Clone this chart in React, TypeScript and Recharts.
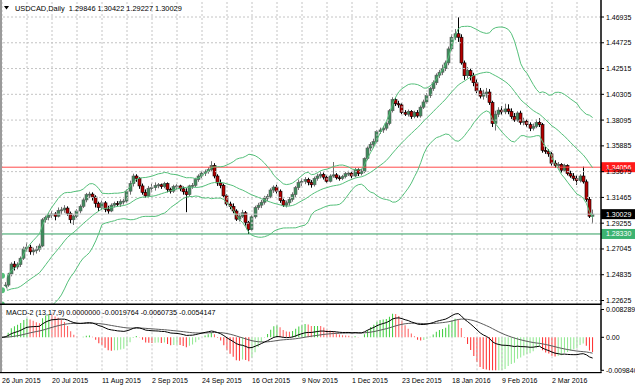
import React from 'react';
import { ComposedChart, Bar, Line, XAxis, YAxis, ReferenceLine, Cell } from 'recharts';

// USDCAD daily, 26 Jun 2015 .. 21 Mar 2016 (bar index 0..189)
const opens = [
  1.2335, 1.2355, 1.2395, 1.2490, 1.2575, 1.2550, 1.2570, 1.2625, 1.2705, 1.2720,
  1.2680, 1.2690, 1.2700, 1.2730, 1.2955, 1.2975, 1.2995, 1.3005, 1.2985, 1.3035,
  1.3040, 1.3055, 1.3010, 1.2955, 1.2985, 1.3030, 1.3070, 1.3125, 1.3170, 1.3175,
  1.3150, 1.3095, 1.3060, 1.3100, 1.3045, 1.3030, 1.3080, 1.3095, 1.3090, 1.3110,
  1.3115, 1.3200, 1.3265, 1.3330, 1.3310, 1.3245, 1.3190, 1.3160, 1.3225, 1.3230,
  1.3250, 1.3255, 1.3240, 1.3265, 1.3215, 1.3200, 1.3240, 1.3245, 1.3220, 1.3195,
  1.3170, 1.3245, 1.3250, 1.3300, 1.3330, 1.3355, 1.3370, 1.3385, 1.3420, 1.3330,
  1.3270, 1.3250, 1.3160, 1.3090, 1.3070, 1.3030, 1.2960, 1.2985, 1.3015, 1.2930,
  1.2870, 1.2980, 1.3060, 1.3080, 1.3105, 1.3140, 1.3155, 1.3210, 1.3235, 1.3200,
  1.3120, 1.3080, 1.3100, 1.3130, 1.3170, 1.3230, 1.3275, 1.3285, 1.3300, 1.3275,
  1.3255, 1.3310, 1.3330, 1.3345, 1.3320, 1.3285, 1.3330, 1.3340, 1.3315, 1.3310,
  1.3325, 1.3350, 1.3355, 1.3330, 1.3385, 1.3350, 1.3370, 1.3480, 1.3570, 1.3600,
  1.3625, 1.3710, 1.3725, 1.3740, 1.3780, 1.3890, 1.3985, 1.3950, 1.3940, 1.3875,
  1.3860, 1.3885, 1.3840, 1.3875, 1.3845, 1.3920, 1.3965, 1.4020, 1.4080, 1.4130,
  1.4195, 1.4220, 1.4250, 1.4300, 1.4420, 1.4520, 1.4550, 1.4520, 1.4300, 1.4190,
  1.4235, 1.4190, 1.4130, 1.4060, 1.4015, 1.4035, 1.4050, 1.3960, 1.3780, 1.3860,
  1.3895, 1.3880, 1.3905, 1.3885, 1.3840, 1.3810, 1.3870, 1.3790, 1.3800, 1.3770,
  1.3740, 1.3755, 1.3790, 1.3770, 1.3550, 1.3540, 1.3520, 1.3440, 1.3420, 1.3430,
  1.3380, 1.3420, 1.3350, 1.3330, 1.3310, 1.3290, 1.3330, 1.3280, 1.3130, 1.29846,
];
const highs = [
  1.2380, 1.2420, 1.2500, 1.2590, 1.2600, 1.2590, 1.2640, 1.2725, 1.2760, 1.2740,
  1.2715, 1.2730, 1.2750, 1.2970, 1.2990, 1.3015, 1.3030, 1.3020, 1.3060, 1.3065,
  1.3080, 1.3070, 1.3025, 1.3000, 1.3045, 1.3085, 1.3140, 1.3185, 1.3195, 1.3190,
  1.3165, 1.3110, 1.3120, 1.3115, 1.3075, 1.3095, 1.3110, 1.3115, 1.3130, 1.3135,
  1.3215, 1.3290, 1.3350, 1.3345, 1.3320, 1.3265, 1.3215, 1.3245, 1.3265, 1.3275,
  1.3270, 1.3265, 1.3280, 1.3275, 1.3230, 1.3255, 1.3260, 1.3255, 1.3240, 1.3225,
  1.3255, 1.3270, 1.3315, 1.3345, 1.3370, 1.3385, 1.3405, 1.3457, 1.3440, 1.3345,
  1.3300, 1.3265, 1.3175, 1.3110, 1.3095, 1.3045, 1.3010, 1.3040, 1.3030, 1.2945,
  1.2995, 1.3075, 1.3100, 1.3125, 1.3160, 1.3175, 1.3225, 1.3250, 1.3255, 1.3215,
  1.3135, 1.3120, 1.3150, 1.3190, 1.3245, 1.3300, 1.3310, 1.3320, 1.3315, 1.3295,
  1.3325, 1.3350, 1.3370, 1.3360, 1.3335, 1.3345, 1.3450, 1.3355, 1.3335, 1.3340,
  1.3365, 1.3375, 1.3365, 1.3400, 1.3395, 1.3390, 1.3490, 1.3585, 1.3620, 1.3650,
  1.3725, 1.3745, 1.3760, 1.3795, 1.3905, 1.4005, 1.4000, 1.3975, 1.3955, 1.3895,
  1.3900, 1.3895, 1.3890, 1.3895, 1.3935, 1.3985, 1.4040, 1.4095, 1.4150, 1.4210,
  1.4240, 1.4285, 1.4320, 1.4440, 1.4545, 1.4590, 1.4690, 1.4545, 1.4320, 1.4265,
  1.4250, 1.4215, 1.4160, 1.4085, 1.4070, 1.4085, 1.4075, 1.3975, 1.3890, 1.3920,
  1.3930, 1.3950, 1.3945, 1.3910, 1.3870, 1.3885, 1.3890, 1.3830, 1.3815, 1.3790,
  1.3780, 1.3815, 1.3825, 1.3785, 1.3580, 1.3560, 1.3535, 1.3465, 1.3450, 1.3440,
  1.3435, 1.3430, 1.3375, 1.3355, 1.3335, 1.3345, 1.3410, 1.3300, 1.3150, 1.30422,
];
const lows = [
  1.2310, 1.2340, 1.2380, 1.2470, 1.2520, 1.2530, 1.2550, 1.2610, 1.2680, 1.2655,
  1.2650, 1.2665, 1.2680, 1.2720, 1.2930, 1.2950, 1.2970, 1.2950, 1.2975, 1.3000,
  1.3015, 1.2990, 1.2925, 1.2910, 1.2970, 1.3010, 1.3055, 1.3105, 1.3140, 1.3120,
  1.3060, 1.3030, 1.3040, 1.3020, 1.3005, 1.3020, 1.3060, 1.3070, 1.3065, 1.3085,
  1.3100, 1.3170, 1.3240, 1.3280, 1.3220, 1.3170, 1.3145, 1.3140, 1.3190, 1.3205,
  1.3225, 1.3220, 1.3225, 1.3190, 1.3180, 1.3185, 1.3215, 1.3200, 1.3170, 1.3020,
  1.3155, 1.3220, 1.3235, 1.3280, 1.3310, 1.3330, 1.3350, 1.3370, 1.3310, 1.3245,
  1.3225, 1.3140, 1.3075, 1.3045, 1.3010, 1.2945, 1.2940, 1.2970, 1.2905, 1.2833,
  1.2860, 1.2965, 1.3040, 1.3055, 1.3085, 1.3115, 1.3140, 1.3185, 1.3180, 1.3100,
  1.3065, 1.3060, 1.3075, 1.3110, 1.3150, 1.3210, 1.3245, 1.3260, 1.3250, 1.3230,
  1.3240, 1.3290, 1.3310, 1.3300, 1.3270, 1.3275, 1.3315, 1.3300, 1.3290, 1.3295,
  1.3310, 1.3330, 1.3310, 1.3320, 1.3330, 1.3335, 1.3355, 1.3465, 1.3545, 1.3580,
  1.3610, 1.3690, 1.3700, 1.3720, 1.3765, 1.3875, 1.3930, 1.3915, 1.3860, 1.3845,
  1.3840, 1.3820, 1.3825, 1.3830, 1.3830, 1.3905, 1.3950, 1.4000, 1.4060, 1.4110,
  1.4170, 1.4195, 1.4230, 1.4280, 1.4400, 1.4495, 1.4480, 1.4285, 1.4155, 1.4170,
  1.4150, 1.4100, 1.4040, 1.3995, 1.3985, 1.4000, 1.3940, 1.3750, 1.3720, 1.3835,
  1.3855, 1.3860, 1.3860, 1.3820, 1.3795, 1.3795, 1.3770, 1.3765, 1.3750, 1.3715,
  1.3720, 1.3740, 1.3750, 1.3530, 1.3520, 1.3495, 1.3420, 1.3400, 1.3395, 1.3360,
  1.3365, 1.3335, 1.3315, 1.3290, 1.3255, 1.3275, 1.3265, 1.3110, 1.2970, 1.29227,
];
const closes = [
  1.2355, 1.2395, 1.2490, 1.2575, 1.2550, 1.2570, 1.2625, 1.2705, 1.2720, 1.2680,
  1.2690, 1.2700, 1.2730, 1.2955, 1.2975, 1.2995, 1.3005, 1.2985, 1.3035, 1.3040,
  1.3055, 1.3010, 1.2955, 1.2985, 1.3030, 1.3070, 1.3125, 1.3170, 1.3175, 1.3150,
  1.3095, 1.3060, 1.3100, 1.3045, 1.3030, 1.3080, 1.3095, 1.3090, 1.3110, 1.3115,
  1.3200, 1.3265, 1.3330, 1.3310, 1.3245, 1.3190, 1.3160, 1.3225, 1.3230, 1.3250,
  1.3255, 1.3240, 1.3265, 1.3215, 1.3200, 1.3240, 1.3245, 1.3220, 1.3195, 1.3170,
  1.3245, 1.3250, 1.3300, 1.3330, 1.3355, 1.3370, 1.3385, 1.3420, 1.3330, 1.3270,
  1.3250, 1.3160, 1.3090, 1.3070, 1.3030, 1.2960, 1.2985, 1.3015, 1.2930, 1.2870,
  1.2980, 1.3060, 1.3080, 1.3105, 1.3140, 1.3155, 1.3210, 1.3235, 1.3200, 1.3120,
  1.3080, 1.3100, 1.3130, 1.3170, 1.3230, 1.3275, 1.3285, 1.3300, 1.3275, 1.3255,
  1.3310, 1.3330, 1.3345, 1.3320, 1.3285, 1.3330, 1.3340, 1.3315, 1.3310, 1.3325,
  1.3350, 1.3355, 1.3330, 1.3385, 1.3350, 1.3370, 1.3480, 1.3570, 1.3600, 1.3625,
  1.3710, 1.3725, 1.3740, 1.3780, 1.3890, 1.3985, 1.3950, 1.3940, 1.3875, 1.3860,
  1.3885, 1.3840, 1.3875, 1.3845, 1.3920, 1.3965, 1.4020, 1.4080, 1.4130, 1.4195,
  1.4220, 1.4250, 1.4300, 1.4420, 1.4520, 1.4550, 1.4520, 1.4300, 1.4190, 1.4235,
  1.4190, 1.4130, 1.4060, 1.4015, 1.4035, 1.4050, 1.3960, 1.3780, 1.3860, 1.3895,
  1.3880, 1.3905, 1.3885, 1.3840, 1.3810, 1.3870, 1.3790, 1.3800, 1.3770, 1.3740,
  1.3755, 1.3790, 1.3770, 1.3550, 1.3540, 1.3520, 1.3440, 1.3420, 1.3430, 1.3380,
  1.3420, 1.3350, 1.3330, 1.3310, 1.3290, 1.3330, 1.3280, 1.3130, 1.2985, 1.30029,
];
// June 2015 closes before the first visible bar, only used to seed the Bollinger bands
const warmupCloses = [
  1.2480, 1.2390, 1.2370, 1.2470, 1.2460, 1.2360, 1.2320, 1.2290, 1.2305, 1.2320,
  1.2340, 1.2330, 1.2290, 1.2255, 1.2280, 1.2290, 1.2360, 1.2380, 1.2375,
];

const priceTicks = [1.22625, 1.24835, 1.27045, 1.29255, 1.31465, 1.33675, 1.35885, 1.38095, 1.40305, 1.42515, 1.44725, 1.46935];
const macdTicks = [-0.00984, 0, 0.0082891];
const macdTickLabels = ['-0.009840', '0.00', '0.0082891'];
const labelBars = [0, 16, 32, 48, 64, 80, 96, 112, 128, 144, 160, 176];
const dateLabels = ['26 Jun 2015', '20 Jul 2015', '11 Aug 2015', '2 Sep 2015', '24 Sep 2015', '16 Oct 2015', '9 Nov 2015', '1 Dec 2015', '23 Dec 2015', '18 Jan 2016', '9 Feb 2016', '2 Mar 2016'];
const gridBars = [0, 8, 16, 24, 32, 40, 48, 56, 64, 72, 80, 88, 96, 104, 112, 120, 128, 136, 144, 152, 160, 168, 176, 184];
const levelPrices = [1.34056, 1.30029, 1.28330];
const levelLine = ['#ff4a4a', '#c8c8c8', '#2e9e5e'];
const levelTag = ['#ff1a1a', '#000000', '#3cb371'];

const FONT = '"Liberation Sans", Arial, sans-serif';
const X_DOMAIN: [number, number] = [-0.64, 191.68];
const BB_PERIOD = 20;

const seq = [...warmupCloses, ...closes];
const off = warmupCloses.length;

const rows = closes.map((c, i) => {
  const win = seq.slice(off + i - BB_PERIOD + 1, off + i + 1);
  const m = win.reduce((a, b) => a + b, 0) / win.length;
  const sd = Math.sqrt(win.reduce((a, b) => a + (b - m) * (b - m), 0) / win.length);
  return { i, open: opens[i], high: highs[i], low: lows[i], close: c, bbUp: m + 2 * sd, bbMid: m, bbLo: m - 2 * sd };
});

// MACD-2 (13,17,9): EMAs seeded on the first bar, smoothed signal, histogram = 3 * (macd - signal)
let e13 = closes[0];
let e17 = closes[0];
let sig = 0;
let prevH = 0;
const macdRows = closes.map((c, i) => {
  if (i > 0) {
    e13 += (c - e13) * 2 / 14;
    e17 += (c - e17) * 2 / 18;
  }
  const m = e13 - e17;
  if (i > 0) sig += (m - sig) / 9;
  const h = 3 * (m - sig);
  const rising = h >= prevH;
  const color = rising ? (h >= 0 ? '#3ccc3c' : '#8ee88e') : (h >= 0 ? '#ff5a5a' : '#ff2a2a');
  prevH = h;
  return { i, macd: m, signal: sig, hist: h, color };
});

const Candle = (props: any) => {
  const { x, y, width, height, payload } = props;
  if (x == null || y == null) return null;
  const { open, close, high, low } = payload;
  const span = high - low || 1e-9;
  const yOf = (v: number) => y + ((high - v) / span) * height;
  const cx = Math.floor(x + width / 2) + 0.5;
  const up = close >= open;
  const top = yOf(Math.max(open, close));
  const bot = yOf(Math.min(open, close));
  return (
    <g>
      <line x1={cx} x2={cx} y1={y} y2={y + height} stroke={up ? '#707070' : '#000'} strokeWidth={1} />
      <rect x={cx - 1.5} y={top} width={3} height={Math.max(bot - top, 1)} fill={up ? '#3f8a5c' : '#b40000'} stroke={up ? '#5a5a5a' : '#000'} strokeWidth={0.6} />
    </g>
  );
};

const PriceTick = (props: any) => {
  const { x, y, payload } = props;
  return (
    <text x={x} y={y + 2.5} fontSize={7} fontFamily={FONT} fill="#000">
      {Number(payload.value).toFixed(5)}
    </text>
  );
};

const MacdTick = (props: any) => {
  const { x, y, payload } = props;
  const k = macdTicks.indexOf(payload.value);
  return (
    <text x={x} y={y + 2.5} fontSize={7} fontFamily={FONT} fill="#000">
      {k >= 0 ? macdTickLabels[k] : ''}
    </text>
  );
};

const DateTick = (props: any) => {
  const { x, y, payload } = props;
  const k = labelBars.indexOf(payload.value);
  return (
    <text x={x} y={y + 12.9} fontSize={7} fontFamily={FONT} fill="#000">
      {k >= 0 ? dateLabels[k] : ''}
    </text>
  );
};

const PriceTag = (props: any) => {
  const { viewBox, text, bg } = props;
  if (!viewBox) return null;
  const x0 = viewBox.x + viewBox.width;
  return (
    <g>
      <rect x={x0} y={viewBox.y - 5} width={34} height={10} fill={bg} />
      <text x={x0 + 5} y={viewBox.y + 2.5} fontSize={7} fontFamily={FONT} fill="#fff">{text}</text>
    </g>
  );
};

export default function App() {
  return (
    <div style={{ position: 'absolute', left: 0, top: 0, width: 635, height: 391, background: '#fff', overflow: 'hidden' }}>
      <div style={{ position: 'absolute', left: 0, top: 0 }}>
        <ComposedChart width={635} height={304} data={rows} margin={{ top: 0, right: 0, bottom: 0, left: 0 }}>
          <XAxis dataKey="i" type="number" domain={X_DOMAIN} allowDataOverflow hide />
          <YAxis
            orientation="right"
            width={34}
            domain={[1.22325, 1.48393]}
            allowDataOverflow
            ticks={priceTicks}
            interval={0}
            tickSize={3}
            tickMargin={2}
            axisLine={{ stroke: '#000' }}
            tickLine={{ stroke: '#000' }}
            tick={<PriceTick />}
          />
          {priceTicks.map((p) => (
            <ReferenceLine key={'h' + p} y={p} stroke="#c4c4c4" strokeDasharray="2 2" />
          ))}
          {gridBars.map((b) => (
            <ReferenceLine key={'v' + b} x={b} stroke="#c4c4c4" strokeDasharray="2 2" />
          ))}
          {levelPrices.map((p, k) => (
            <ReferenceLine key={'l' + p} y={p} stroke={levelLine[k]} strokeWidth={1} />
          ))}
          <Line dataKey="bbUp" stroke="#55c07a" strokeWidth={1} dot={false} isAnimationActive={false} />
          <Line dataKey="bbMid" stroke="#55c07a" strokeWidth={1} dot={false} isAnimationActive={false} />
          <Line dataKey="bbLo" stroke="#55c07a" strokeWidth={1} dot={false} isAnimationActive={false} />
          <Bar dataKey={(d: any) => [d.low, d.high]} barSize={3} shape={<Candle />} isAnimationActive={false} />
          {levelPrices.map((p, k) => (
            <ReferenceLine
              key={'t' + p}
              y={p}
              stroke="none"
              label={<PriceTag text={p.toFixed(5)} bg={levelTag[k]} />}
            />
          ))}
        </ComposedChart>
      </div>
      <div style={{ position: 'absolute', left: 0, top: 304 }}>
        <ComposedChart width={635} height={87} data={macdRows} margin={{ top: 5.5, right: 0, bottom: 0, left: 0 }}>
          <XAxis
            dataKey="i"
            type="number"
            domain={X_DOMAIN}
            allowDataOverflow
            ticks={labelBars}
            interval={0}
            height={20.7}
            tickSize={0}
            tickMargin={0}
            axisLine={false}
            tickLine={false}
            tick={<DateTick />}
          />
          <YAxis
            orientation="right"
            width={34}
            domain={[-0.00984, 0.0082891]}
            allowDataOverflow
            ticks={macdTicks}
            interval={0}
            tickSize={3}
            tickMargin={2}
            axisLine={{ stroke: '#000' }}
            tickLine={{ stroke: '#000' }}
            tick={<MacdTick />}
          />
          {gridBars.map((b) => (
            <ReferenceLine key={'v' + b} x={b} stroke="#c4c4c4" strokeDasharray="2 2" />
          ))}
          <Bar dataKey="hist" barSize={1} isAnimationActive={false}>
            {macdRows.map((r) => (
              <Cell key={r.i} fill={r.color} />
            ))}
          </Bar>
          <Line dataKey="signal" stroke="#5a5a5a" strokeWidth={1} dot={false} isAnimationActive={false} />
          <Line dataKey="macd" stroke="#000" strokeWidth={1} dot={false} isAnimationActive={false} />
        </ComposedChart>
      </div>
      <svg width={635} height={391} style={{ position: 'absolute', left: 0, top: 0, pointerEvents: 'none' }}>
        <rect x={0} y={0} width={2} height={373} fill="#9a9a9a" />
        <rect x={0} y={303.5} width={601.5} height={1.5} fill="#000" />
        <rect x={0} y={372} width={601.5} height={1.2} fill="#000" />
        <rect x={600.5} y={0} width={1} height={373} fill="#000" />
        <polygon points="4,6 9,6 6.5,9.5" fill="#000" />
        <text x={15} y={11} fontSize={7.4} fontFamily={FONT} fill="#000" style={{ whiteSpace: 'pre' }}>
          {'USDCAD,Daily  1.29846 1.30422 1.29227 1.30029'}
        </text>
        <text x={6} y={314.5} fontSize={7.2} fontFamily={FONT} fill="#000">
          {'MACD-2 (13,17,9) 0.0000000 -0.0019764 -0.0060735 -0.0054147'}
        </text>
      </svg>
    </div>
  );
}
